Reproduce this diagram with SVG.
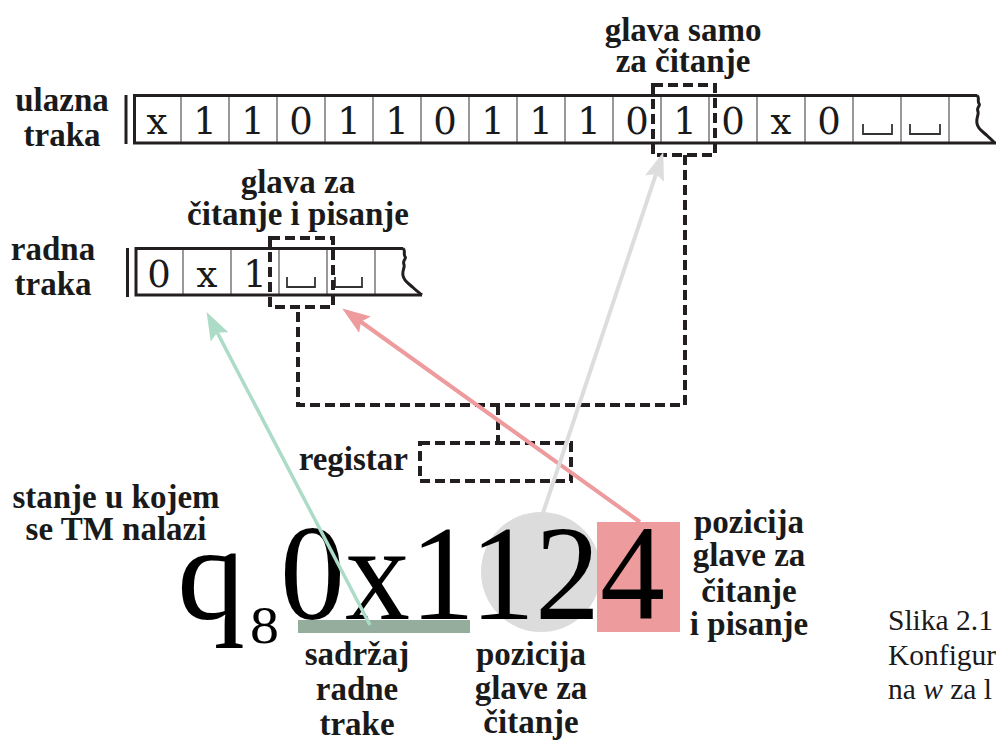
<svg xmlns="http://www.w3.org/2000/svg" width="996" height="743" viewBox="0 0 996 743">
<style>
.tb{font-family:'Liberation Serif',serif;font-weight:700;font-size:33px;fill:#1a1a1a;text-anchor:middle}
.cap{font-family:'Liberation Serif',serif;font-size:29.5px;fill:#1a1a1a}
.cell{font-family:'DejaVu Serif','Liberation Serif',serif;font-size:37px;fill:#1a1a1a;text-anchor:middle}
.blank{stroke:#333;stroke-width:1.8;fill:none}
.border{stroke:#231f20;stroke-width:3;fill:none}
.div{stroke:#555;stroke-width:1.2}
.dash{stroke:#231f20;stroke-width:4;fill:none;stroke-dasharray:10 5}
.big{font-family:'Liberation Serif',serif;font-size:136px;fill:#000}
</style>
<defs>
<marker id="hg" markerUnits="userSpaceOnUse" markerWidth="32" markerHeight="22" refX="15" refY="10" orient="auto"><path d="M0,0 L28,10 L0,20 L5,10 z" fill="#acdcc8"/></marker>
<marker id="hr" markerUnits="userSpaceOnUse" markerWidth="32" markerHeight="22" refX="15" refY="10" orient="auto"><path d="M0,0 L28,10 L0,20 L5,10 z" fill="#ee9b9d"/></marker>
<marker id="hy" markerUnits="userSpaceOnUse" markerWidth="32" markerHeight="22" refX="15" refY="10" orient="auto"><path d="M0,0 L28,10 L0,20 L5,10 z" fill="#dddddd"/></marker>
</defs>

<g id="input-tape">
<rect x="124.5" y="95" width="3" height="49" fill="#231f20"/>
<line class="div" x1="181" y1="95" x2="181" y2="143"/><line class="div" x1="229" y1="95" x2="229" y2="143"/><line class="div" x1="277" y1="95" x2="277" y2="143"/><line class="div" x1="325" y1="95" x2="325" y2="143"/><line class="div" x1="373" y1="95" x2="373" y2="143"/><line class="div" x1="421" y1="95" x2="421" y2="143"/><line class="div" x1="469" y1="95" x2="469" y2="143"/><line class="div" x1="517" y1="95" x2="517" y2="143"/><line class="div" x1="565" y1="95" x2="565" y2="143"/><line class="div" x1="613" y1="95" x2="613" y2="143"/><line class="div" x1="661" y1="95" x2="661" y2="143"/><line class="div" x1="709" y1="95" x2="709" y2="143"/><line class="div" x1="757" y1="95" x2="757" y2="143"/><line class="div" x1="805" y1="95" x2="805" y2="143"/><line class="div" x1="853" y1="95" x2="853" y2="143"/><line class="div" x1="901" y1="95" x2="901" y2="143"/><line class="div" x1="949" y1="95" x2="949" y2="143"/>
<path class="border" d="M977,95.5 L134.5,95.5 L134.5,143 L996,143"/>
<path class="border" stroke-width="2.5" d="M977,95.5 c3,2 0,5 2,8 c2,2 -3,4 -1,8 c1,3 -2,6 -1,12 c1,6 6,8 10,12 c3,3 6,5 8,8"/>
<text class="cell" x="157" y="134">x</text><text class="cell" x="205" y="134">1</text><text class="cell" x="253" y="134">1</text><text class="cell" x="301" y="134">0</text><text class="cell" x="349" y="134">1</text><text class="cell" x="397" y="134">1</text><text class="cell" x="445" y="134">0</text><text class="cell" x="493" y="134">1</text><text class="cell" x="541" y="134">1</text><text class="cell" x="589" y="134">1</text><text class="cell" x="637" y="134">0</text><text class="cell" x="685" y="134">1</text><text class="cell" x="733" y="134">0</text><text class="cell" x="781" y="134">x</text><text class="cell" x="829" y="134">0</text>
<path class="blank" d="M863,124 V134 H892 V124"/><path class="blank" d="M910,124 V134 H940 V124"/>
</g>

<g id="work-tape">
<rect x="126" y="248" width="3" height="49" fill="#231f20"/>
<line class="div" x1="183" y1="248" x2="183" y2="295"/><line class="div" x1="231" y1="248" x2="231" y2="295"/><line class="div" x1="279" y1="248" x2="279" y2="295"/><line class="div" x1="327" y1="248" x2="327" y2="295"/><line class="div" x1="375" y1="248" x2="375" y2="295"/>
<path class="border" d="M403,248.5 L136,248.5 L136,295 L422,295"/>
<path class="border" stroke-width="2.5" d="M403,248.5 c3,2 0,5 2,8 c2,2 -3,4 -1,8 c1,3 -2,6 -1,11 c1,6 6,8 10,12 c3,3 6,5 9,7.5"/>
<text class="cell" x="159" y="287">0</text><text class="cell" x="207" y="287">x</text><text class="cell" x="255" y="287">1</text>
<path class="blank" d="M287,277 V287 H315 V277"/><path class="blank" d="M335,277 V287 H362 V277"/>
</g>

<g id="input-head"><rect class="dash" x="653" y="85" width="62" height="70"/></g>
<g id="work-head"><rect class="dash" x="270" y="238" width="63" height="69"/></g>
<g id="register"><rect class="dash" x="420" y="443" width="151" height="38"/><text class="tb" x="408" y="470" style="text-anchor:end">registar</text></g>

<g id="config">
<circle cx="541" cy="572" r="60" fill="#dcdcdc"/>
<rect x="597" y="522" width="83" height="110" fill="#ee9b9d"/>
<text class="big" x="177" y="619">q</text>
<text class="big" x="250" y="643" style="font-size:52px" textLength="29" lengthAdjust="spacingAndGlyphs">8</text>
<text class="big" x="280" y="619" textLength="385" lengthAdjust="spacingAndGlyphs">0x1124</text>
<rect x="298" y="620" width="172" height="13" fill="#94ad9c"/>
</g>

<g id="labels">
<text class="tb" x="62" y="111">ulazna</text><text class="tb" x="62" y="146">traka</text>
<text class="tb" x="683" y="41">glava samo</text><text class="tb" x="683" y="72">za čitanje</text>
<text class="tb" x="298" y="193">glava za</text><text class="tb" x="298" y="225">čitanje i pisanje</text>
<text class="tb" x="53" y="260">radna</text><text class="tb" x="53" y="295">traka</text>
<text class="tb" x="116" y="508">stanje u kojem</text><text class="tb" x="116" y="540">se TM nalazi</text>
<text class="tb" x="357" y="665">sadržaj</text><text class="tb" x="357" y="700">radne</text><text class="tb" x="357" y="735">trake</text>
<text class="tb" x="531" y="665">pozicija</text><text class="tb" x="531" y="699">glave za</text><text class="tb" x="531" y="733">čitanje</text>
<text class="tb" x="749" y="533">pozicija</text><text class="tb" x="749" y="566">glave za</text><text class="tb" x="749" y="602">čitanje</text><text class="tb" x="749" y="635">i pisanje</text>
</g>
<g id="caption">
<text class="cap" x="888" y="630">Slika 2.1</text>
<text class="cap" x="888" y="665">Konfigur</text>
<text class="cap" x="888" y="699">na <tspan font-style="italic">w</tspan> za l</text>
</g>

<g id="connectors">
<path class="dash" d="M685,155 L685,405 L298,405 L298,307"/>
<path class="dash" d="M498,405 L498,443"/>
<line x1="370" y1="625" x2="212.6" y2="323.6" stroke="#acdcc8" stroke-width="3.5" marker-end="url(#hg)"/>
<line x1="640" y1="522" x2="352.8" y2="316" stroke="#ee9b9d" stroke-width="4" marker-end="url(#hr)"/>
<line x1="543" y1="513" x2="659.2" y2="164.4" stroke="#dddddd" stroke-width="4" marker-end="url(#hy)"/>
</g>
</svg>
